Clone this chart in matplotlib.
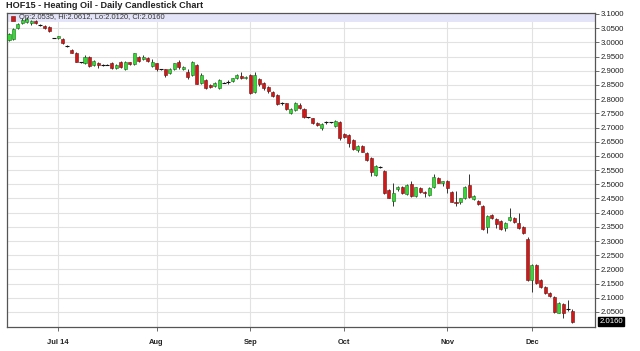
import numpy as np
import matplotlib
matplotlib.use("Agg")
import matplotlib.pyplot as plt
from matplotlib.patches import Rectangle

plt.rcParams['font.family'] = ['Liberation Sans', 'DejaVu Sans']

# Daily OHLC, one entry per trading day (Jun 16 2014 .. Dec 12 2014)
opens = [3.010, 3.012, 3.051, 3.069, 3.072, 3.068, 3.076, 3.062, 3.058, 3.055,
         3.015, 3.015, 3.013, 2.987, 2.973, 2.962, 2.930, 2.928, 2.950, 2.920,
         2.928, 2.921, 2.922, 2.928, 2.909, 2.932, 2.905, 2.930, 2.924, 2.950,
         2.942, 2.946, 2.917, 2.926, 2.905, 2.905, 2.891, 2.905, 2.930, 2.905,
         2.897, 2.885, 2.920, 2.858, 2.867, 2.850, 2.846, 2.838, 2.858, 2.861,
         2.865, 2.873, 2.881, 2.874, 2.885, 2.826, 2.870, 2.856, 2.844, 2.826,
         2.815, 2.787, 2.785, 2.750, 2.762, 2.780, 2.764, 2.736, 2.733, 2.717,
         2.697, 2.718, 2.719, 2.706, 2.720, 2.677, 2.674, 2.656, 2.621, 2.635,
         2.611, 2.594, 2.533, 2.560, 2.547, 2.480, 2.442, 2.482, 2.491, 2.466,
         2.500, 2.459, 2.486, 2.474, 2.462, 2.489, 2.521, 2.506, 2.511, 2.474,
         2.439, 2.439, 2.450, 2.497, 2.447, 2.442, 2.423, 2.348, 2.391, 2.377,
         2.371, 2.345, 2.374, 2.380, 2.365, 2.350, 2.306, 2.163, 2.216, 2.163,
         2.137, 2.116, 2.104, 2.048, 2.078, 2.059, 2.0535]
highs = [3.033, 3.050, 3.068, 3.085, 3.088, 3.080, 3.080, 3.064, 3.060, 3.057,
         3.016, 3.024, 3.016, 2.992, 2.976, 2.965, 2.932, 2.955, 2.952, 2.937,
         2.930, 2.924, 2.923, 2.930, 2.925, 2.935, 2.934, 2.932, 2.964, 2.953,
         2.954, 2.948, 2.940, 2.929, 2.907, 2.907, 2.908, 2.929, 2.938, 2.915,
         2.905, 2.935, 2.923, 2.893, 2.870, 2.852, 2.860, 2.870, 2.860, 2.866,
         2.876, 2.888, 2.895, 2.880, 2.888, 2.895, 2.875, 2.860, 2.847, 2.828,
         2.818, 2.790, 2.788, 2.767, 2.790, 2.786, 2.767, 2.738, 2.735, 2.720,
         2.716, 2.722, 2.721, 2.727, 2.723, 2.680, 2.677, 2.659, 2.638, 2.638,
         2.614, 2.597, 2.567, 2.563, 2.550, 2.483, 2.505, 2.493, 2.494, 2.500,
         2.512, 2.492, 2.489, 2.477, 2.489, 2.535, 2.524, 2.512, 2.515, 2.477,
         2.478, 2.453, 2.493, 2.535, 2.462, 2.445, 2.426, 2.391, 2.394, 2.380,
         2.374, 2.368, 2.415, 2.383, 2.400, 2.353, 2.315, 2.219, 2.219, 2.166,
         2.140, 2.119, 2.107, 2.086, 2.081, 2.092, 2.0612]
lows = [3.005, 3.010, 3.048, 3.066, 3.070, 3.062, 3.064, 3.056, 3.048, 3.037,
        3.014, 3.013, 2.994, 2.982, 2.961, 2.930, 2.928, 2.925, 2.914, 2.915,
        2.910, 2.918, 2.921, 2.906, 2.907, 2.910, 2.903, 2.922, 2.921, 2.932,
        2.938, 2.930, 2.914, 2.900, 2.902, 2.878, 2.888, 2.902, 2.905, 2.902,
        2.872, 2.882, 2.852, 2.855, 2.835, 2.840, 2.844, 2.835, 2.856, 2.855,
        2.862, 2.870, 2.870, 2.872, 2.818, 2.823, 2.845, 2.832, 2.820, 2.808,
        2.779, 2.778, 2.760, 2.747, 2.758, 2.766, 2.735, 2.733, 2.712, 2.706,
        2.690, 2.712, 2.716, 2.703, 2.655, 2.662, 2.632, 2.620, 2.615, 2.612,
        2.583, 2.530, 2.530, 2.556, 2.467, 2.450, 2.425, 2.478, 2.465, 2.463,
        2.455, 2.456, 2.468, 2.455, 2.459, 2.486, 2.503, 2.495, 2.470, 2.436,
        2.425, 2.430, 2.447, 2.453, 2.444, 2.427, 2.338, 2.330, 2.377, 2.345,
        2.338, 2.335, 2.371, 2.365, 2.342, 2.326, 2.160, 2.120, 2.150, 2.134,
        2.115, 2.103, 2.048, 2.045, 2.030, 2.055, 2.012]
closes = [3.030, 3.047, 3.065, 3.079, 3.082, 3.076, 3.067, 3.062, 3.051, 3.040,
          3.015, 3.022, 2.997, 2.987, 2.964, 2.932, 2.930, 2.947, 2.917, 2.935,
          2.919, 2.921, 2.922, 2.909, 2.922, 2.912, 2.932, 2.925, 2.962, 2.935,
          2.950, 2.935, 2.930, 2.905, 2.905, 2.885, 2.906, 2.926, 2.912, 2.912,
          2.879, 2.932, 2.855, 2.885, 2.838, 2.844, 2.858, 2.867, 2.858, 2.861,
          2.873, 2.885, 2.873, 2.878, 2.820, 2.885, 2.853, 2.838, 2.830, 2.811,
          2.782, 2.787, 2.764, 2.764, 2.785, 2.770, 2.738, 2.736, 2.715, 2.709,
          2.713, 2.718, 2.719, 2.724, 2.662, 2.665, 2.647, 2.623, 2.635, 2.615,
          2.586, 2.544, 2.564, 2.560, 2.470, 2.453, 2.468, 2.489, 2.470, 2.497,
          2.459, 2.489, 2.474, 2.470, 2.486, 2.527, 2.506, 2.510, 2.486, 2.439,
          2.433, 2.450, 2.490, 2.456, 2.459, 2.430, 2.341, 2.388, 2.380, 2.360,
          2.341, 2.365, 2.384, 2.368, 2.345, 2.329, 2.163, 2.216, 2.153, 2.137,
          2.118, 2.106, 2.051, 2.083, 2.045, 2.059, 2.016]

month_pos = [11, 33, 54, 75, 98, 117]
month_labels = ["Jul 14", "Aug", "Sep", "Oct", "Nov", "Dec"]
price_ticks = np.arange(2.05, 3.1001, 0.05)

title = "HOF15 - Heating Oil - Daily Candlestick Chart"
legend_text = "Op:2.0535, Hi:2.0612, Lo:2.0120, Cl:2.0160"
last_label = "2.0160"

o = np.array(opens)
h = np.array(highs)
l = np.array(lows)
c = np.array(closes)
x = np.arange(len(o))

fig = plt.figure(figsize=(6.4, 3.51), dpi=100)
ax = fig.add_axes([7 / 640, 24 / 351, 588 / 640, 314 / 351])

ax.set_xlim(-0.45, 131.1)
ax.set_ylim(1.997, 3.1035)

# header band inside the plot
ax.add_patch(Rectangle((0, 1 - 9 / 314), 1, 9 / 314, transform=ax.transAxes,
                       facecolor="#e4e4f8", edgecolor="none", zorder=0.5))

ax.vlines(month_pos, 1.997, 3.1035, color="#e2e2e2", lw=0.8, zorder=0)
ax.hlines(price_ticks, -0.45, 131.1, color="#e2e2e2", lw=0.8, zorder=0)

# wicks
ax.vlines(x, l, h, color="#333333", lw=0.7, zorder=2)

up = c > o
down = c < o
flat = c == o
w = 0.68
ax.bar(x[up], c[up] - o[up], bottom=o[up], width=w, color="#35d835",
       edgecolor="#1d6b1d", lw=0.4, zorder=3)
ax.bar(x[down], o[down] - c[down], bottom=c[down], width=w, color="#d01818",
       edgecolor="#6b1010", lw=0.4, zorder=3)
ax.hlines(o[flat], x[flat] - 0.45, x[flat] + 0.45, color="#111111", lw=0.8, zorder=3)

for s in ax.spines.values():
    s.set_color("#555555")
    s.set_linewidth(0.9)

ax.yaxis.tick_right()
ax.set_yticks(price_ticks)
ax.set_yticklabels([f"{v:.4f}" for v in price_ticks])
ax.tick_params(axis="y", labelsize=5.6, colors="#555555", length=3, width=0.6,
               pad=1, labelcolor="#222222")
ax.set_xticks(month_pos)
ax.set_xticklabels(month_labels, fontweight="bold")
ax.tick_params(axis="x", labelsize=5.4, colors="#555555", length=3, width=0.6,
               pad=6, labelcolor="#222222")

fig.text(6 / 640, 1 - 6 / 351, title, fontsize=6.6, fontweight="bold",
         color="#222222", va="center", ha="left")

ax.add_patch(Rectangle((4 / 588, 1 - 8 / 314), 4 / 588, 4.5 / 314,
                       transform=ax.transAxes, facecolor="#d01818",
                       edgecolor="#6b1010", lw=0.4, zorder=4))
ax.text(12 / 588, 1 - 4.5 / 314, legend_text, transform=ax.transAxes,
        fontsize=5.4, color="#333333", va="center", ha="left", zorder=5)

ax.annotate(last_label, xy=(1, c[-1]), xycoords=("axes fraction", "data"),
            xytext=(3, 0), textcoords="offset points", fontsize=5.6,
            color="white", va="center", ha="left",
            bbox=dict(boxstyle="square,pad=0.1", fc="black", ec="black"))

fig.savefig("out.png", dpi=100)
